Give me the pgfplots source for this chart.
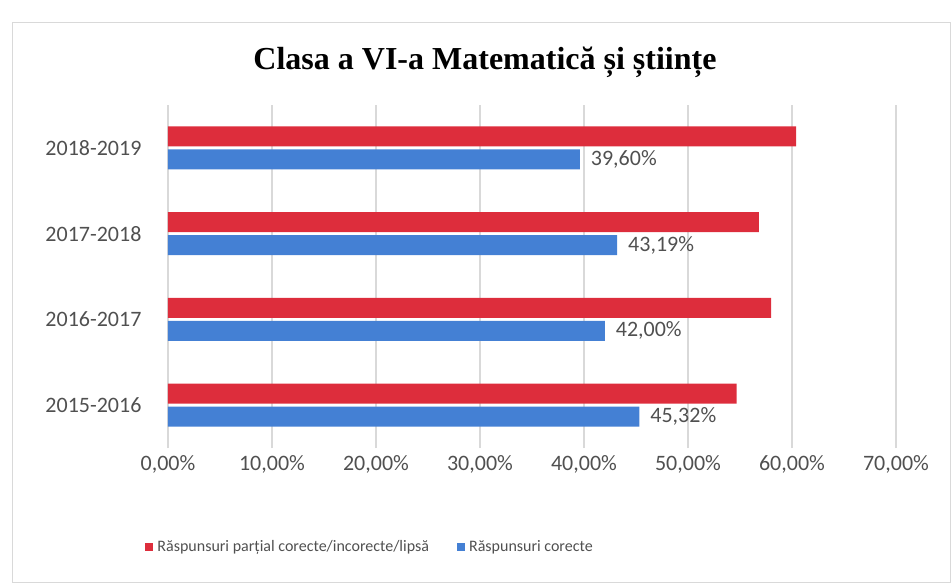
\documentclass[border=0pt]{standalone}
\usepackage{pgfplots}
\pgfplotsset{compat=1.18}
\usepackage{fontspec}
\setmainfont{Carlito}
\newfontfamily\titlefont{Liberation Serif}
\definecolor{barred}{RGB}{221,45,60}
\definecolor{barblue}{RGB}{68,128,212}
\definecolor{gridgray}{RGB}{217,217,217}
\definecolor{txtgray}{RGB}{80,80,80}
\begin{document}
\begin{tikzpicture}
\useasboundingbox (-84pt,-67.5pt) rectangle (392pt,224pt);
\draw[gray!30] (-78pt,-67pt) rectangle (391pt,213pt);
\begin{axis}[
  at={(0pt,0pt)}, anchor=south west,
  scale only axis, width=364pt, height=171.5pt,
  xbar, bar width=10pt,
  xmin=0, xmax=70, ymin=-0.5, ymax=3.5,
  xtick={0,10,20,30,40,50,60,70},
  xticklabels={{0,00\%},{10,00\%},{20,00\%},{30,00\%},{40,00\%},{50,00\%},{60,00\%},{70,00\%}},
  ytick={0,1,2,3},
  yticklabels={2015-2016,2016-2017,2017-2018,2018-2019},
  xmajorgrids, grid style={gridgray, line width=0.8pt},
  axis line style={draw=none}, major tick style={draw=none},
  tick label style={font=\fontsize{11}{13}\selectfont, text=txtgray},
  yticklabel style={xshift=-5.5pt},
  legend style={at={(0.279,-0.29)}, anchor=center, draw=none, fill=none,
    font=\fontsize{8}{10}\selectfont, text=txtgray, legend columns=2,
    /tikz/every even column/.append style={column sep=12pt}},
  legend image code/.code={\fill[#1] (0pt,-2pt) rectangle (4pt,2pt);},
]
\addplot[fill=barred, draw=none, bar shift=5.75pt] coordinates {(54.68,0) (58.00,1) (56.81,2) (60.40,3)};
\addlegendentry{Răspunsuri parțial corecte/incorecte/lipsă}
\addplot[fill=barblue, draw=none, bar shift=-5.75pt, point meta=x,
  nodes near coords={\pgfmathprintnumber[fixed,fixed zerofill,precision=2,use comma,assume math mode=true]{\pgfplotspointmeta}\%},
  nodes near coords style={font=\fontsize{11}{13}\selectfont, text=txtgray, anchor=west, xshift=2pt}]
  coordinates {(45.32,0) (42.00,1) (43.19,2) (39.60,3)};
\addlegendentry{Răspunsuri corecte}
\end{axis}
\node[font=\titlefont\bfseries\fontsize{16}{19}\selectfont] at (158.5pt,193pt) {Clasa a VI-a Matematică și științe};
\end{tikzpicture}
\end{document}
